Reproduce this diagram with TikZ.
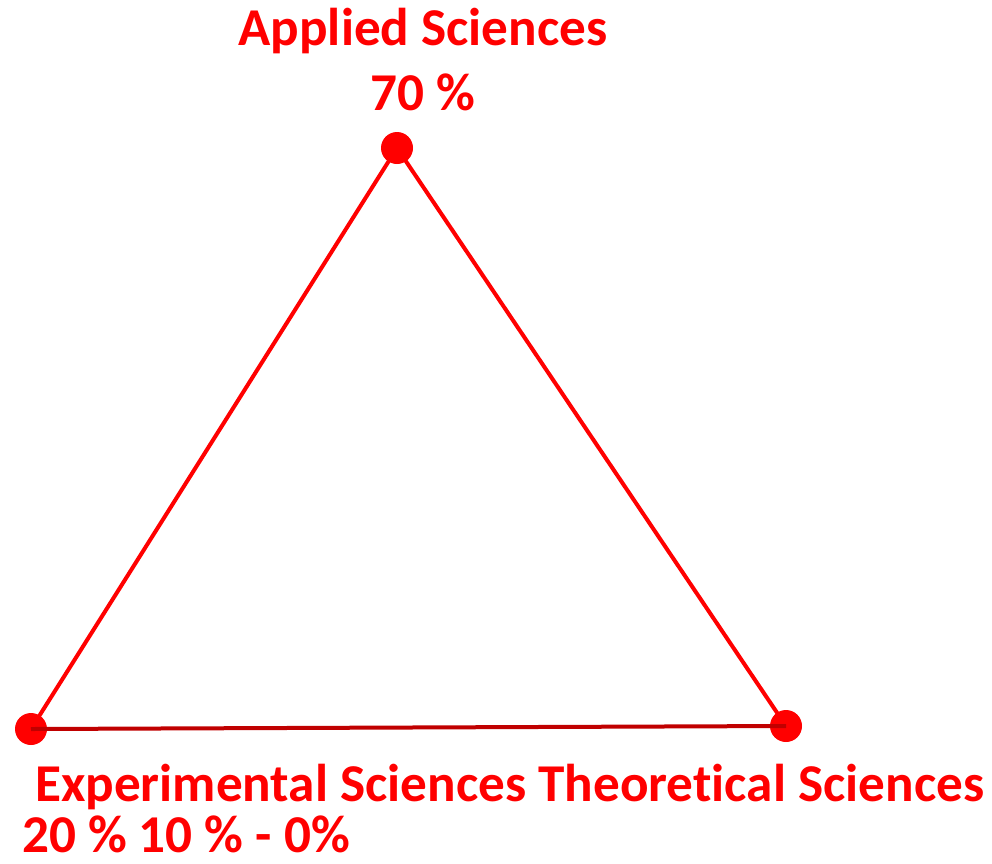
\documentclass[tikz,border=0pt]{standalone}
\usepackage{fontspec}
\setmainfont[Ligatures=NoCommon]{Carlito}
\definecolor{lred}{RGB}{255,0,0}
\definecolor{dred}{RGB}{192,0,0}
\begin{document}
\begin{tikzpicture}[x=1pt,y=-1pt,
  dot/.style={circle,fill=lred,inner sep=0pt,minimum size=32pt},
  edge/.style={draw=lred,line width=4pt},
  base/.style={draw=dred,line width=4pt},
  lbl/.style={text=lred,font=\fontsize{53.2}{64}\selectfont\bfseries,inner sep=0pt}]
\useasboundingbox (0,0) rectangle (992,863);
\node[dot] (a) at (397,148) {};
\node[dot] (e) at (31,729) {};
\node[dot] (t) at (786,726) {};
\draw[edge] (a.center) -- (e.center);
\draw[edge] (a.center) -- (t.center);
\draw[base] (e.center) -- (t.center);
\node[lbl,anchor=base] (l1) at (423,45) {Applied Sciences};
\node[lbl,anchor=base] (l2) at (423,110) {70 \%};
\node[lbl,anchor=base west] (l3) at (35,801) {Experimental Sciences Theoretical Sciences};
\node[lbl,anchor=base west] (l4) at (22,852) {20 \% 10 \% - 0\%};
\end{tikzpicture}
\end{document}
